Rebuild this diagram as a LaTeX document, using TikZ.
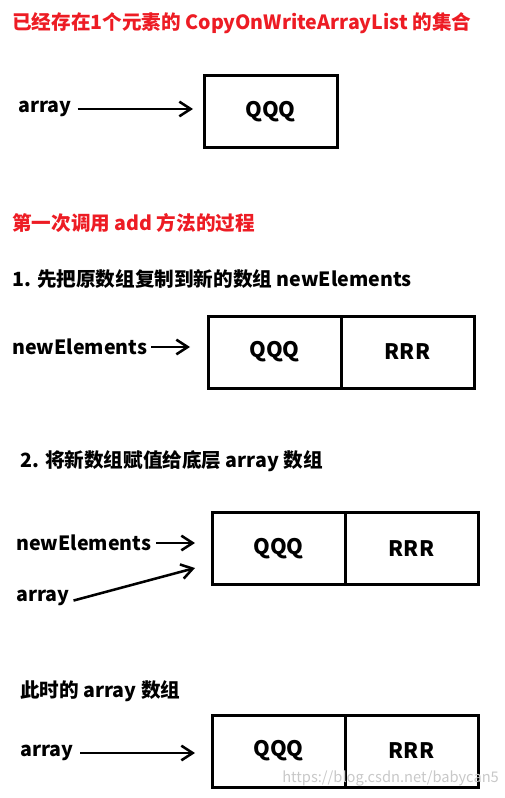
\documentclass[tikz,border=0pt]{standalone}
\usepackage{fontspec}
\setmainfont{Noto Sans CJK SC}
\usepackage{xcolor}
\usepackage{tikz}
\usetikzlibrary{arrows.meta, positioning}
\definecolor{titlered}{RGB}{237,28,36}
\definecolor{markgray}{RGB}{200,200,200}

\begin{document}
\begin{tikzpicture}[
    x=0.75pt, y=-0.75pt,
    font=\bfseries\fontsize{14.7pt}{17pt}\selectfont,
    ttl/.style={anchor=west, inner sep=0pt, text=titlered},
    hdr/.style={anchor=west, inner sep=0pt},
    lbl/.style={anchor=west, inner sep=0pt},
    cell/.style={draw, line width=2.25pt, outer sep=0pt, minimum width=99.75pt,
                 minimum height=54pt, font=\bfseries\fontsize{16pt}{18pt}\selectfont},
    arr/.style={-{Straight Barb[length=8.5pt, width=11pt, line width=1.9pt]}, line width=1.9pt},
    wmark/.style={anchor=west, inner sep=0pt, text=markgray,
                  font=\fontsize{11pt}{13pt}\selectfont}
]
\useasboundingbox (0,0) rectangle (505,798);

% Initial list with one element
\node[ttl]  (t1)   at (12, 23)   {已经存在1个元素的 CopyOnWriteArrayList 的集合};
\node[cell] (qA)   at (270.5, 112) {QQQ};
\node[lbl]  (arrA) at (18, 109)  {array};
\draw[arr, shorten <=4.5pt, shorten >=8.25pt] (arrA) -- (arrA -| qA.west);

% First call of add
\node[ttl]  (t2)   at (12, 223)  {第一次调用 add 方法的过程};

% Step 1: copy into newElements
\node[hdr]  (h1)   at (12, 279)  {1. 先把原数组复制到新的数组 newElements};
\node[cell] (qB)   at (274.5, 352) {QQQ};
\node[cell, anchor=west] (rB) at (qB.east) {RRR};
\node[lbl]  (neB)  at (12, 347)  {newElements};
\draw[arr, shorten <=3pt, shorten >=13.5pt] (neB) -- (neB -| qB.west);

% Step 2: assign to array
\node[hdr]  (h2)   at (20, 461)  {2. 将新数组赋值给底层 array 数组};
\node[cell] (qC)   at (278.5, 548.5) {QQQ};
\node[cell, anchor=west] (rC) at (qC.east) {RRR};
\node[lbl]  (neC)  at (16, 543)  {newElements};
\node[lbl]  (arrC) at (16, 598)  {array};
\coordinate (tipC) at (195, 568);
\draw[arr, shorten <=3.75pt, shorten >=12.75pt] (neC) -- (neC -| qC.west);
\draw[arr, shorten <=3pt] (arrC.base east) -- (tipC);

% Resulting array
\node[hdr]  (h3)   at (20, 691)  {此时的 array 数组};
\node[cell] (qD)   at (278.5, 751) {QQQ};
\node[cell, anchor=west] (rD) at (qD.east) {RRR};
\node[lbl]  (arrD) at (20, 753)  {array};
\draw[arr, shorten <=5pt, shorten >=12.75pt] (arrD) -- (arrD -| qD.west);

\node[wmark] (wm) at (282, 778) {https://blog.csdn.net/babycan5};

\end{tikzpicture}
\end{document}
